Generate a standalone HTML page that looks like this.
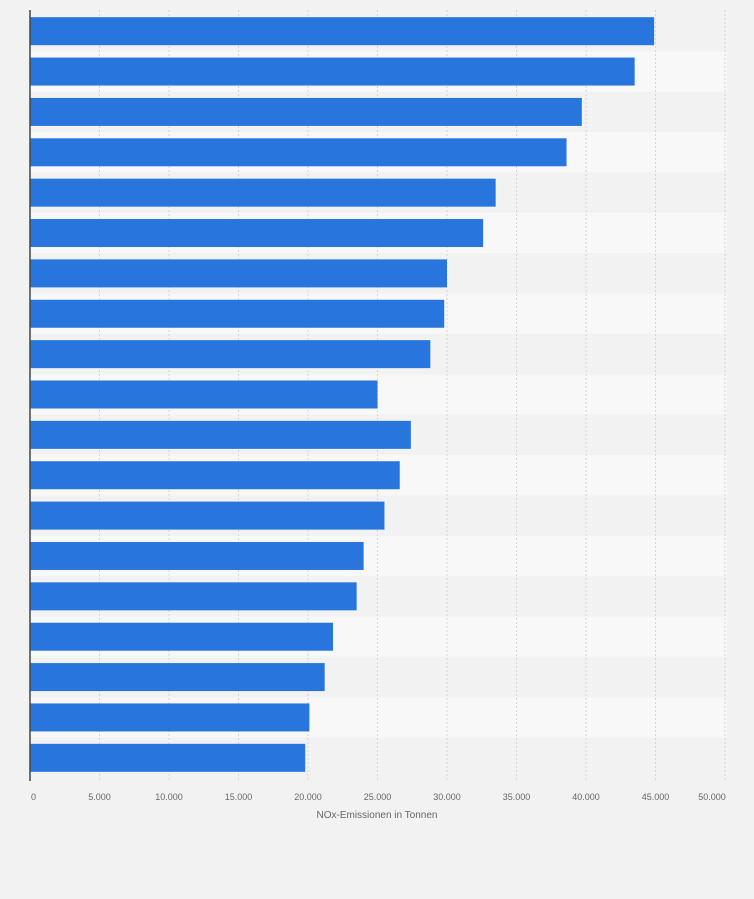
<!DOCTYPE html>
<html><head><meta charset="utf-8"><style>
body{margin:0;background:#f2f2f2;font-family:"Liberation Sans",sans-serif}
svg{display:block}
</style></head><body>
<svg id="chart" width="754" height="899" xmlns="http://www.w3.org/2000/svg">
<rect width="754" height="899" fill="#f2f2f2"/>
<g id="bands"></g><g id="grid"></g><g id="bars"></g><g id="ticks"></g>
<line x1="30" y1="10" x2="30" y2="781" stroke="#444" stroke-width="1.5"/>
<text x="377" y="818" font-size="10" fill="#666" text-anchor="middle">NOx-Emissionen in Tonnen</text>
</svg>
<script>
const values=[44900,43500,39700,38600,33500,32600,30000,29800,28800,25000,27400,26600,25500,24000,23500,21800,21200,20100,19800];
const ticks=[0,5000,10000,15000,20000,25000,30000,35000,40000,45000,50000];
const tickLabels=["0","5.000","10.000","15.000","20.000","25.000","30.000","35.000","40.000","45.000","50.000"];
const NS="http://www.w3.org/2000/svg";
const x0=30,x1=725,xMax=50000,top0=11,rowH=(778-11)/values.length,barH=28;
const xs=v=>x0+(x1-x0)*v/xMax;
function mk(t,a,p){const e=document.createElementNS(NS,t);for(const k in a)e.setAttribute(k,a[k]);document.getElementById(p).appendChild(e);return e;}
values.forEach((v,i)=>{
 const b=mk('rect',{x:x0,y:top0+i*rowH,width:x1-x0+2,height:rowH,fill:i%2?'#f8f8f8':'#f2f2f2'},'bands');
 
 
});
ticks.forEach((t,i)=>{
 if(i>0){const g=mk('line',{x1:xs(t),x2:xs(t),y1:10,y2:781,stroke:'#d6d6d6','stroke-dasharray':'2,2'},'grid');
 
 }
 let x=xs(t),anchor='middle';
 if(i===0){x=x0+1;anchor='start';}
 if(i===ticks.length-1){x=xs(t)-13;}
 const l=mk('text',{x:x,y:800,'font-size':'9','fill':'#666','text-anchor':anchor},'ticks');
 l.textContent=tickLabels[i];
 
 
});
values.forEach((v,i)=>{
 const y=top0+i*rowH+(rowH-barH)/2;
 const r=mk('rect',{x:x0,y:y,width:xs(v)-x0,height:barH,fill:'#2876dd'},'bars');
 
 
});
</script>
</body></html>
